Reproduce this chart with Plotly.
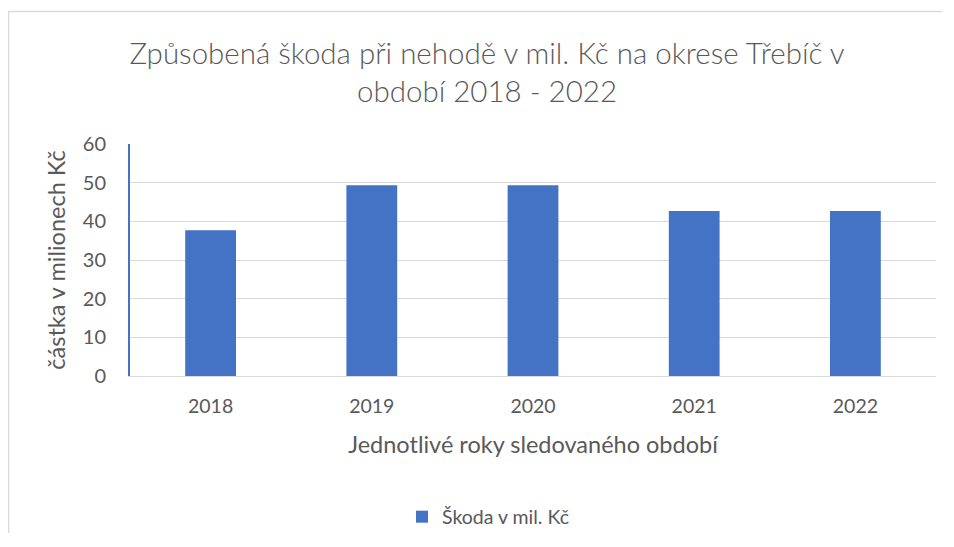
import plotly.graph_objects as go

years = ["2018", "2019", "2020", "2021", "2022"]
damage = [37.7, 49.3, 49.3, 42.7, 42.7]
y_ticks = [0, 10, 20, 30, 40, 50, 60]

OFF = 8  # default page body margin
W, H = 954 - 2 * OFF - 4, 547 - 2 * OFF - 6
# plot area in page pixels
PL, PR, PT, PB = 130, 936, 144, 376
L, R, T, B = PL - OFF, W - (PR - OFF), PT - OFF, H - (PB - OFF)
pw, ph = PR - PL, PB - PT

def px(x):
    return (x - PL) / pw

def py(y):
    return (PB - y) / ph

font = "Lato, 'Open Sans', sans-serif"
grey = "#595959"
border = "#d9d9d9"

fig = go.Figure()
fig.add_trace(go.Bar(x=years, y=damage, name="Škoda v mil. Kč",
                     marker=dict(color="#4472C4", line=dict(width=0))))

fig.update_layout(
    width=W, height=H,
    margin=dict(l=L, r=R, t=T, b=B, autoexpand=False),
    paper_bgcolor="white", plot_bgcolor="white",
    bargap=0.685,
    font=dict(family=font, color=grey),
    title=dict(text="Způsobená škoda při nehodě v mil. Kč na okrese Třebíč v<br>období 2018 - 2022",
               x=px(487), xanchor="center", xref="paper",
               y=1 - (64 - OFF) / H, yanchor="top", yref="container",
               font=dict(size=29.5, color=grey, family=font, weight=300)),
    xaxis=dict(automargin=False, showgrid=False, showline=True, linecolor=border, linewidth=1,
               tickfont=dict(size=19.5, color=grey), ticks="outside", ticklen=13, tickcolor="rgba(0,0,0,0)",
               title=dict(text="Jednotlivé roky sledovaného období", font=dict(size=23.5, color=grey), standoff=20)),
    yaxis=dict(automargin=False, range=[0, 60], tickvals=y_ticks, showgrid=True, gridcolor=border, gridwidth=1,
               showline=True, linecolor="#4472C4", linewidth=2, zeroline=False,
               tickfont=dict(size=20, color=grey), ticks="outside", ticklen=18, tickcolor="rgba(0,0,0,0)",
               title=dict(text="částka v milionech Kč", font=dict(size=23.5, color=grey), standoff=11)),
    showlegend=True,
    legend=dict(orientation="h", x=px(488), xanchor="center", y=py(517), yanchor="middle",
                font=dict(size=19.5, color=grey)),
    shapes=[
        dict(type="line", xref="paper", yref="paper", x0=px(8.5), x1=px(954), y0=py(11.5), y1=py(11.5),
             line=dict(color=border, width=1.5), layer="below"),
        dict(type="line", xref="paper", yref="paper", x0=px(8.5), x1=px(8.5), y0=py(11.5), y1=py(547),
             line=dict(color=border, width=1.5), layer="below"),
    ],
)

fig.write_html("out.html")
